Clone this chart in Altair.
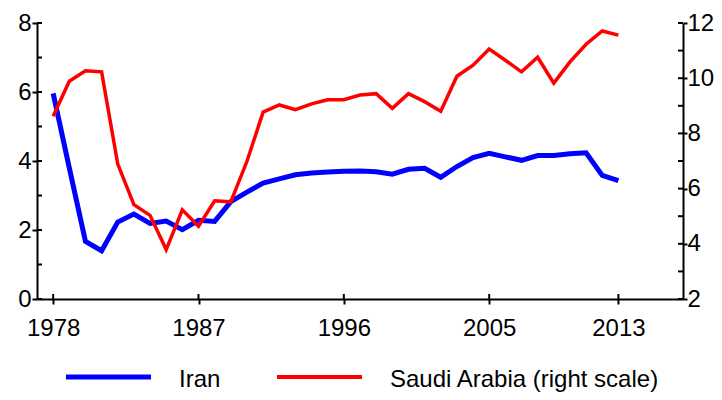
import altair as alt
import pandas as pd

years = list(range(1978, 2014))
iran = [5.96, 3.80, 1.67, 1.40, 2.23, 2.46, 2.19, 2.26, 2.01, 2.28,
        2.25, 2.82, 3.10, 3.36, 3.48, 3.60, 3.65, 3.68, 3.70, 3.71,
        3.69, 3.62, 3.76, 3.79, 3.53, 3.84, 4.10, 4.22, 4.12, 4.02,
        4.16, 4.16, 4.21, 4.24, 3.58, 3.43]
saudi = [8.62, 9.89, 10.27, 10.23, 6.89, 5.42, 5.03, 3.79, 5.23, 4.64,
         5.56, 5.52, 6.99, 8.77, 9.03, 8.86, 9.07, 9.22, 9.22, 9.39,
         9.44, 8.91, 9.44, 9.15, 8.80, 10.07, 10.47, 11.06, 10.65, 10.23,
         10.76, 9.82, 10.59, 11.23, 11.71, 11.56]
series_names = ["Iran", "Saudi Arabia (right scale)"]
x_ticks = [1978, 1987, 1996, 2005, 2013]
left_ticks = list(range(0, 9))
right_ticks = list(range(2, 13))

W, H = 646, 276
TOP = 15
FONT = "Liberation Sans"
FS = 24
BLUE = "#0000FF"
RED = "#FF0000"

df_iran = pd.DataFrame({"year": years, "value": iran})
df_saudi = pd.DataFrame({"year": years, "value": saudi})

x_scale = alt.Scale(domain=[1977, 2017], nice=False, zero=False)
x_axis = alt.Axis(values=x_ticks, format="d", title=None, grid=False,
                  domainColor="black", domainWidth=2, tickColor="black",
                  tickWidth=2, tickSize=5, labelPadding=12, labelFont=FONT,
                  labelFontSize=FS, labelColor="black", labelFlush=False,
                  labelOverlap=False)
left_axis = alt.Axis(values=left_ticks, title=None, grid=False, orient="left",
                     labelExpr="datum.value % 2 == 0 ? datum.label : ''",
                     domainColor="black", domainWidth=2, tickColor="black",
                     tickWidth=2, tickSize=5, labelPadding=1, labelFont=FONT,
                     labelFontSize=FS, labelColor="black", labelFlush=False,
                     labelOverlap=False)
right_axis = alt.Axis(values=right_ticks, title=None, grid=False, orient="right",
                      labelExpr="datum.value % 2 == 0 ? datum.label : ''",
                      domainColor="black", domainWidth=2, tickColor="black",
                      tickWidth=2, tickSize=4, labelPadding=0, labelFont=FONT,
                      labelFontSize=FS, labelColor="black", labelFlush=False,
                      labelOverlap=False)

left_scale = alt.Scale(domain=[0, 8], nice=False, zero=False)
right_scale = alt.Scale(domain=[2, 12], nice=False, zero=False)

iran_line = alt.Chart(df_iran).mark_line(color=BLUE, strokeWidth=5).encode(
    x=alt.X("year:Q", scale=x_scale, axis=x_axis),
    y=alt.Y("value:Q", scale=left_scale, axis=left_axis),
)
left_in = alt.Chart(pd.DataFrame({"t": left_ticks})).mark_rule(
    color="black", strokeWidth=2).encode(
    y=alt.Y("t:Q", scale=left_scale), x=alt.value(0), x2=alt.value(5))
x_in = alt.Chart(pd.DataFrame({"t": x_ticks})).mark_rule(
    color="black", strokeWidth=2).encode(
    x=alt.X("t:Q", scale=x_scale), y=alt.value(H - 5), y2=alt.value(H))

saudi_line = alt.Chart(df_saudi).mark_line(color=RED, strokeWidth=3.5).encode(
    x=alt.X("year:Q", scale=x_scale),
    y=alt.Y("value:Q", scale=right_scale, axis=right_axis),
)
right_in = alt.Chart(pd.DataFrame({"t": right_ticks})).mark_rule(
    color="black", strokeWidth=2).encode(
    y=alt.Y("t:Q", scale=right_scale), x=alt.value(W - 5), x2=alt.value(W))

LEG_LINE_Y = 377 - 8 - TOP
LEG_TEXT_Y = 387 - 8 - TOP
one = pd.DataFrame({"k": [0]})
leg_iran_line = alt.Chart(one).mark_rule(color=BLUE, strokeWidth=5).encode(
    x=alt.value(29), x2=alt.value(114), y=alt.value(LEG_LINE_Y))
leg_iran_text = alt.Chart(one).mark_text(
    align="left", baseline="alphabetic", font=FONT, fontSize=FS, color="black").encode(
    x=alt.value(142), y=alt.value(LEG_TEXT_Y), text=alt.value(series_names[0]))
leg_saudi_line = alt.Chart(one).mark_rule(color=RED, strokeWidth=4).encode(
    x=alt.value(240), x2=alt.value(325), y=alt.value(LEG_LINE_Y))
leg_saudi_text = alt.Chart(one).mark_text(
    align="left", baseline="alphabetic", font=FONT, fontSize=FS, color="black").encode(
    x=alt.value(353), y=alt.value(LEG_TEXT_Y), text=alt.value(series_names[1]))

left_layer = alt.layer(iran_line, left_in, x_in, leg_iran_line, leg_iran_text,
                       leg_saudi_line, leg_saudi_text)
right_layer = alt.layer(saudi_line, right_in)

chart = alt.layer(left_layer, right_layer).resolve_scale(
    y="independent"
).properties(
    width=W, height=H,
    autosize=alt.AutoSizeParams(type="none"),
    padding={"left": 29, "top": TOP, "right": 31, "bottom": 384 - TOP - H},
    background="white",
).configure_view(stroke=None)

chart.save("out.html", embed_options={"renderer": "svg", "actions": False})
